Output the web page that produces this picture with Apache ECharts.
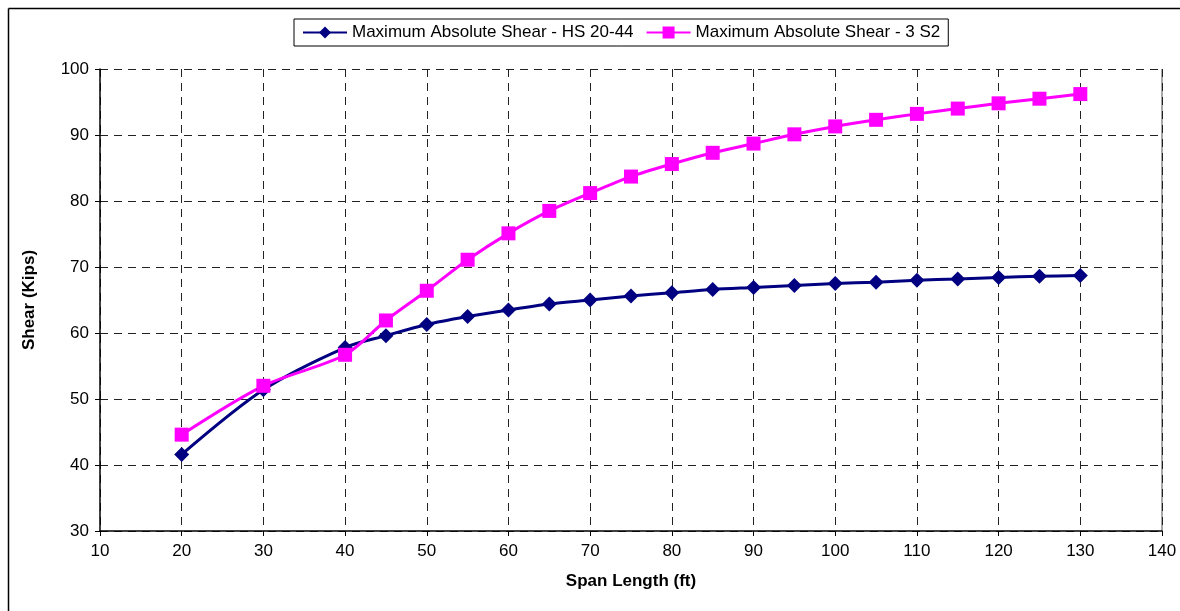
<!DOCTYPE html>
<html>
<head>
<meta charset="utf-8">
<script src="https://cdn.jsdelivr.net/npm/echarts@6/dist/echarts.min.js"></script>
<style>html,body{margin:0;padding:0;background:#fff}#c{width:1180px;height:611px}</style>
</head>
<body>
<div id="c"></div>
<script>
const spans = [20,30,40,45,50,55,60,65,70,75,80,85,90,95,100,105,110,115,120,125,130];
const hs2044 = [41.6,51.4,57.8,59.6,61.3,62.5,63.5,64.4,65.0,65.6,66.1,66.6,66.9,67.2,67.5,67.7,68.0,68.2,68.4,68.6,68.7];
const s32 = [44.6,52.0,56.7,61.9,66.4,71.1,75.1,78.5,81.2,83.7,85.6,87.3,88.7,90.1,91.3,92.3,93.2,94.0,94.8,95.5,96.2];
const seriesNames = ['Maximum Absolute Shear - HS 20-44','Maximum Absolute Shear - 3 S2'];

const chart = echarts.init(document.getElementById('c'));
const font = 'Liberation Sans, Arial, sans-serif';
chart.setOption({
  animation:false,
  textStyle:{fontFamily:font},
  graphic:[
    {type:'line',shape:{x1:8.5,y1:8.5,x2:1180,y2:8.5},style:{stroke:'#000',lineWidth:1.5}},
    {type:'line',shape:{x1:8.5,y1:8.5,x2:8.5,y2:611},style:{stroke:'#000',lineWidth:1.5}},
    {type:'line',shape:{x1:1162,y1:69,x2:1162,y2:531},style:{stroke:'#888',lineWidth:1.5}}
  ],
  legend:{
    top:19,left:294,
    itemGap:12,itemWidth:44,itemHeight:15,
    padding:[5,8,5,8],
    borderColor:'#000',borderWidth:1,
    textStyle:{fontSize:17,color:'#000',fontFamily:font},
    data:seriesNames
  },
  grid:{left:100,top:69,right:18,bottom:80,containLabel:false},
  xAxis:{
    type:'value',min:10,max:140,interval:10,
    name:'Span Length (ft)',nameLocation:'middle',nameGap:42,
    nameTextStyle:{fontSize:17,fontWeight:'bold',color:'#000'},
    axisLine:{lineStyle:{color:'#000',width:1.5}},
    axisTick:{show:true,length:5,lineStyle:{color:'#000'}},
    axisLabel:{fontSize:17,color:'#000',margin:12},
    splitLine:{show:true,lineStyle:{color:'#222',type:[8,6],width:1}}
  },
  yAxis:{
    type:'value',min:30,max:100,interval:10,
    name:'Shear (Kips)',nameLocation:'middle',nameGap:62,
    nameTextStyle:{fontSize:17,fontWeight:'bold',color:'#000'},
    axisLine:{show:true,lineStyle:{color:'#000',width:1.5}},
    axisTick:{show:true,length:5,lineStyle:{color:'#000'}},
    axisLabel:{fontSize:17,color:'#000',margin:11},
    splitLine:{show:true,lineStyle:{color:'#222',type:[8,6],width:1}}
  },
  series:[
    {name:seriesNames[0],type:'line',smooth:0.3,
     data:spans.map((x,i)=>[x,hs2044[i]]),
     symbol:'diamond',symbolSize:15,
     lineStyle:{color:'#000080',width:3},
     itemStyle:{color:'#000080'}},
    {name:seriesNames[1],type:'line',smooth:0.3,
     data:spans.map((x,i)=>[x,s32[i]]),
     symbol:'rect',symbolSize:14,
     lineStyle:{color:'#FF00FF',width:3},
     itemStyle:{color:'#FF00FF'}}
  ]
});
</script>
</body>
</html>
